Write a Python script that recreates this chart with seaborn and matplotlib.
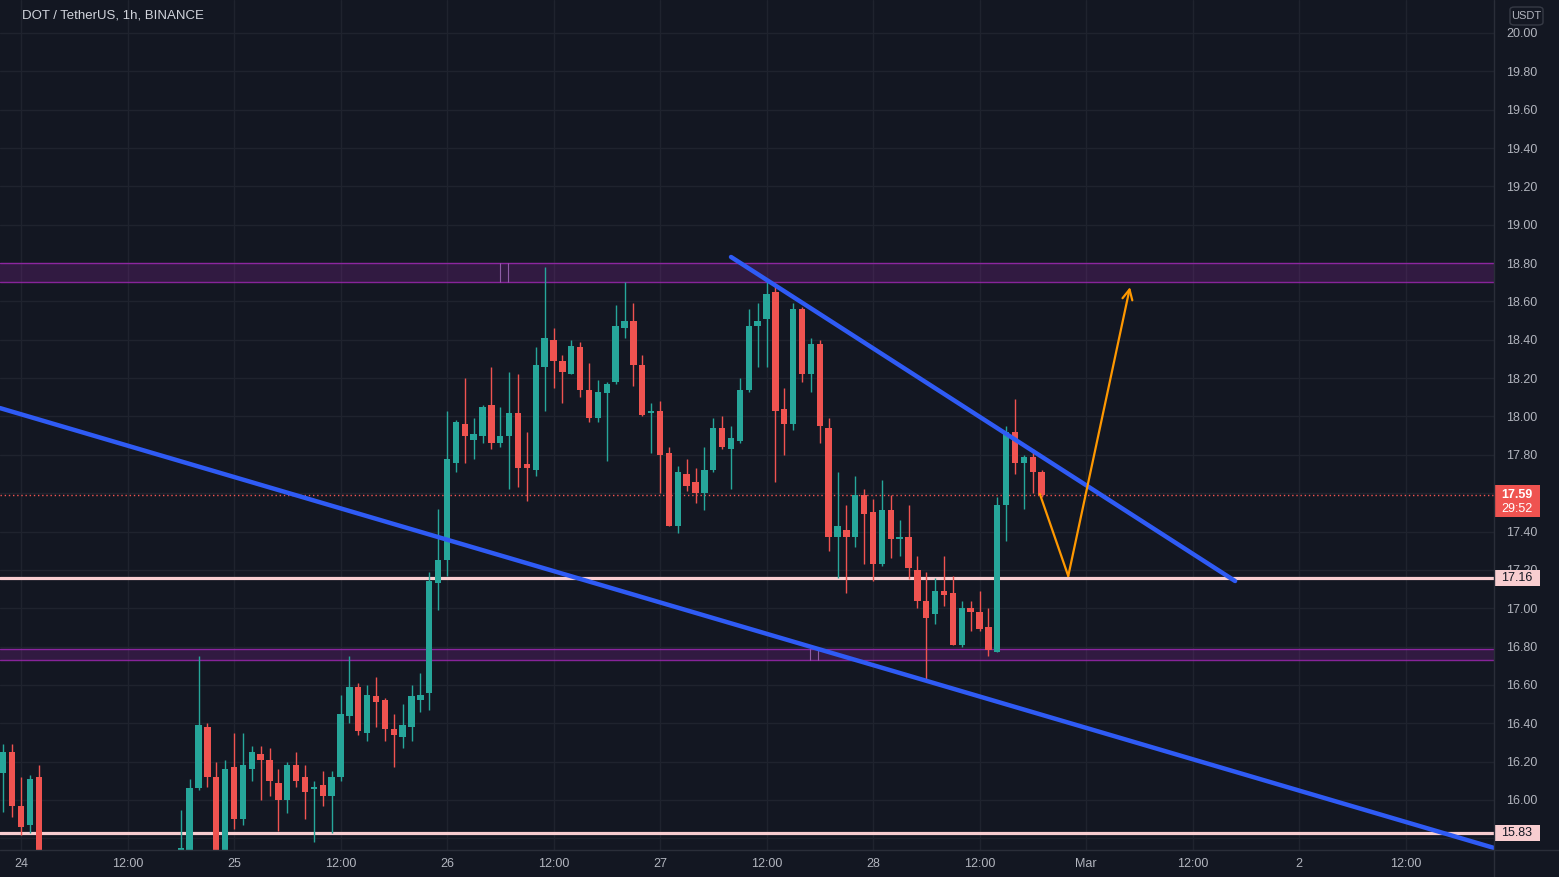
import numpy as np
import pandas as pd
import matplotlib
matplotlib.use("Agg")
import matplotlib.pyplot as plt
import matplotlib.transforms as mtransforms
from matplotlib.patches import Rectangle, FancyBboxPatch
from matplotlib.lines import Line2D
import seaborn as sns

# ---------------- data ----------------
hours = list(range(-2, 116))  # hours since Feb 24 00:00
opens = [16.14, 16.25, 15.97, 15.87, 16.12,
         15.66, 15.55, 15.48, 15.53, 15.40, 15.46, 15.38, 15.43, 15.50, 15.47, 15.55, 15.52, 15.59, 15.61, 15.56,
         15.64, 15.73, 16.06, 16.38, 16.12, 15.74, 16.17, 15.90, 16.16, 16.24, 16.21, 16.09, 16.00, 16.18, 16.12,
         16.056, 16.08, 16.02, 16.12, 16.44, 16.59, 16.35, 16.54, 16.52, 16.37, 16.33, 16.38, 16.52, 16.56, 17.13,
         17.25, 17.76, 17.96, 17.88, 17.90, 18.06, 17.86, 17.90, 18.02, 17.75, 17.72, 18.26, 18.40, 18.29, 18.22,
         18.36, 18.14, 17.99, 18.12, 18.18, 18.46, 18.50, 18.27, 18.02, 18.03, 17.81, 17.43, 17.70, 17.66, 17.60,
         17.72, 17.94, 17.83, 17.87, 18.14, 18.47, 18.51, 18.65, 18.04, 17.96, 18.56, 18.22, 18.38, 17.94, 17.37,
         17.41, 17.37, 17.59, 17.50, 17.23, 17.51, 17.36, 17.37, 17.20, 17.04, 16.97, 17.09, 17.08, 16.81, 17.00,
         16.98, 16.90, 16.77, 17.54, 17.92, 17.76, 17.79, 17.71]
highs = [16.29, 16.29, 16.12, 16.13, 16.18,
         15.70, 15.62, 15.58, 15.56, 15.50, 15.49, 15.47, 15.54, 15.53, 15.58, 15.60, 15.63, 15.66, 15.64, 15.68,
         15.95, 16.11, 16.75, 16.40, 16.20, 16.21, 16.35, 16.35, 16.28, 16.28, 16.27, 16.16, 16.20, 16.25, 16.18,
         16.10, 16.15, 16.15, 16.55, 16.75, 16.61, 16.60, 16.64, 16.53, 16.45, 16.50, 16.60, 16.66, 17.19, 17.52,
         18.03, 17.98, 18.20, 17.99, 18.06, 18.26, 18.05, 18.23, 18.22, 17.92, 18.36, 18.78, 18.46, 18.32, 18.40,
         18.39, 18.28, 18.19, 18.18, 18.58, 18.70, 18.59, 18.32, 18.07, 18.08, 17.84, 17.74, 17.78, 17.73, 17.84,
         17.99, 18.00, 17.95, 18.20, 18.56, 18.59, 18.71, 18.68, 18.15, 18.59, 18.57, 18.41, 18.40, 17.99, 17.71,
         17.54, 17.69, 17.62, 17.57, 17.67, 17.59, 17.46, 17.54, 17.27, 17.19, 17.16, 17.27, 17.17, 17.04, 17.04,
         17.09, 17.00, 17.58, 17.95, 18.09, 17.80, 17.83, 17.72]
lows = [15.94, 15.91, 15.82, 15.83, 15.60,
        15.50, 15.44, 15.45, 15.36, 15.35, 15.33, 15.34, 15.40, 15.42, 15.45, 15.48, 15.50, 15.54, 15.52, 15.53,
        15.60, 15.72, 16.05, 16.07, 15.70, 15.72, 15.85, 15.87, 16.10, 16.00, 16.02, 15.84, 15.93, 16.07, 15.90,
        15.78, 15.97, 15.83, 16.10, 16.40, 16.34, 16.31, 16.38, 16.31, 16.17, 16.27, 16.31, 16.46, 16.47, 16.99,
        17.17, 17.71, 17.76, 17.78, 17.86, 17.83, 17.84, 17.62, 17.63, 17.56, 17.69, 18.03, 18.15, 18.07, 18.22,
        18.10, 17.97, 17.97, 17.77, 18.17, 18.41, 18.16, 18.00, 17.81, 17.60, 17.43, 17.39, 17.61, 17.55, 17.51,
        17.71, 17.83, 17.62, 17.86, 18.13, 18.26, 18.26, 17.66, 17.80, 17.93, 18.18, 18.13, 17.86, 17.30, 17.16,
        17.08, 17.32, 17.23, 17.14, 17.22, 17.26, 17.27, 17.15, 17.00, 16.63, 16.92, 17.01, 16.81, 16.80, 16.88,
        16.88, 16.75, 16.77, 17.35, 17.70, 17.52, 17.60, 17.58]
closes = [16.25, 15.97, 15.86, 16.11, 15.66,
          15.55, 15.48, 15.53, 15.40, 15.46, 15.38, 15.43, 15.50, 15.47, 15.55, 15.52, 15.59, 15.61, 15.56, 15.64,
          15.75, 16.06, 16.39, 16.12, 15.74, 16.16, 15.90, 16.18, 16.25, 16.21, 16.10, 16.00, 16.18, 16.10, 16.04,
          16.07, 16.02, 16.12, 16.45, 16.59, 16.36, 16.55, 16.51, 16.37, 16.34, 16.39, 16.54, 16.55, 17.14, 17.25,
          17.78, 17.97, 17.90, 17.91, 18.05, 17.86, 17.90, 18.02, 17.73, 17.73, 18.27, 18.41, 18.29, 18.23, 18.37,
          18.14, 17.99, 18.13, 18.17, 18.47, 18.50, 18.27, 18.01, 18.03, 17.80, 17.43, 17.71, 17.64, 17.60, 17.72,
          17.94, 17.84, 17.89, 18.14, 18.47, 18.50, 18.64, 18.03, 17.96, 18.56, 18.22, 18.38, 17.95, 17.37, 17.43,
          17.37, 17.59, 17.49, 17.23, 17.51, 17.36, 17.37, 17.21, 17.04, 16.95, 17.09, 17.07, 16.81, 17.00, 16.98,
          16.89, 16.78, 17.54, 17.92, 17.76, 17.79, 17.71, 17.59]

x_tick_hours = [0, 12, 24, 36, 48, 60, 72, 84, 96, 108, 120, 132, 144, 156]
x_tick_labels = ["24", "12:00", "25", "12:00", "26", "12:00", "27", "12:00", "28", "12:00",
                 "Mar", "12:00", "2", "12:00"]
price_ticks = [15.8, 16.0, 16.2, 16.4, 16.6, 16.8, 17.0, 17.2, 17.4, 17.6, 17.8,
               18.0, 18.2, 18.4, 18.6, 18.8, 19.0, 19.2, 19.4, 19.6, 19.8, 20.0]
hidden_price_labels = [15.8, 17.6]  # covered by the level boxes in the reference

resistance_zone = [18.70, 18.80]
support_zone = [16.73, 16.785]
zone_marks_top = [54.0, 54.9]
zone_marks_bottom = [88.9, 89.8]
pink_levels = [17.16, 15.83]
pink_labels = ["17.16", "15.83"]
last_price = 17.59
countdown = "29:52"

wedge_lower_x = [-2.37, 165.97]
wedge_lower_y = [18.044, 15.75]
wedge_upper_x = [80.0, 136.8]
wedge_upper_y = [18.832, 17.142]
path_x = [114.8, 118.0, 124.96]
path_y = [17.596, 17.168, 18.675]

title = "DOT / TetherUS, 1h, BINANCE"

# ---------------- style ----------------
BG = "#131722"
GRID = "#1F232E"
TXT = "#B2B5BE"
UP = "#26A69A"
DOWN = "#EF5350"
W, H = 1559, 877

sns.set_theme(style="dark", rc={"axes.facecolor": BG, "figure.facecolor": BG})
plt.rcParams["font.family"] = ["Liberation Sans", "DejaVu Sans"]

fig = plt.figure(figsize=(W / 100, H / 100), dpi=100)
plot_right = 1494
plot_bottom = 850
ax = fig.add_axes([0, (H - plot_bottom) / H, plot_right / W, plot_bottom / H])
ax.set_facecolor(BG)

px_h = 8.875
x0 = -21 / px_h
x1 = (plot_right - 21) / px_h
ax.set_xlim(x0, x1)
y_top = 20 + 33 / 191.75
y_bot = 20 - (plot_bottom - 33) / 191.75
ax.set_ylim(y_bot, y_top)

# grid
for v in price_ticks:
    ax.axhline(v, color=GRID, lw=1, zorder=0)
for v in x_tick_hours:
    ax.axvline(v, color=GRID, lw=1, zorder=0)

# zones
for lo, hi, marks in [(resistance_zone[0], resistance_zone[1], zone_marks_top),
                      (support_zone[0], support_zone[1], zone_marks_bottom)]:
    ax.axhspan(lo, hi, color="#9C27B0", alpha=0.22, lw=0, zorder=1)
    ax.axhline(lo, color="#9C27B0", lw=1.0, alpha=0.85, zorder=1)
    ax.axhline(hi, color="#9C27B0", lw=1.0, alpha=0.85, zorder=1)
    ax.vlines(marks, lo, hi, color="#B57BD0", lw=0.8, alpha=0.7, zorder=1)

# horizontal levels
for lv in pink_levels:
    ax.axhline(lv, color="#F8CDD0", lw=2.3, zorder=2)
ax.axhline(last_price, color=DOWN, lw=1.0, ls=(0, (1, 2)), zorder=2)

# candles
df = pd.DataFrame({"h": hours, "o": opens, "hi": highs, "lo": lows, "c": closes})
df["col"] = np.where(df["c"] >= df["o"], UP, DOWN)
df["bot"] = df[["o", "c"]].min(axis=1)
df["ht"] = (df["c"] - df["o"]).abs().clip(lower=0.007)
ax.vlines(df["h"], df["lo"], df["hi"], colors=df["col"], lw=1.0, zorder=3)
ax.bar(df["h"], df["ht"], bottom=df["bot"], width=0.72, color=df["col"], lw=0, zorder=4)

# trend lines (seaborn)
sns.lineplot(x=wedge_lower_x, y=wedge_lower_y, ax=ax, color="#2F5BF5", lw=3.2, sort=False, zorder=5)
sns.lineplot(x=wedge_upper_x, y=wedge_upper_y, ax=ax, color="#2F5BF5", lw=3.2, sort=False, zorder=5)
sns.lineplot(x=path_x[:2], y=path_y[:2], ax=ax, color="#FF9800", lw=1.6, sort=False, zorder=6)
ax.annotate("", xy=(path_x[2], path_y[2]), xytext=(path_x[1], path_y[1]),
            arrowprops=dict(arrowstyle="->", color="#FF9800", lw=1.6, mutation_scale=18,
                            shrinkA=0, shrinkB=0), zorder=6)

# axes ticks
ax.yaxis.tick_right()
ax.set_yticks(price_ticks)
ax.set_yticklabels(["" if v in hidden_price_labels else f"{v:.2f}" for v in price_ticks])
ax.set_xticks(x_tick_hours)
ax.set_xticklabels(x_tick_labels)
ax.tick_params(axis="y", length=0, pad=9, labelcolor=TXT, labelsize=9)
ax.tick_params(axis="x", length=0, pad=6, labelcolor=TXT, labelsize=9)
ax.grid(False)
for s in ax.spines.values():
    s.set_visible(False)
ax.set_xlabel("")
ax.set_ylabel("")

# price label boxes
blend = mtransforms.blended_transform_factory(ax.transAxes, ax.transData)
bw = 46 / plot_right
ppx = 1 / 191.75
for lv, lab in zip(pink_levels, pink_labels):
    ax.add_patch(Rectangle((1.0, lv - 8 * ppx), bw, 16 * ppx, transform=blend,
                           facecolor="#F8CDD0", edgecolor="none", clip_on=False, zorder=10))
    ax.text(1.0 + bw / 2, lv, lab, transform=blend, ha="center", va="center",
            color="#131722", fontsize=9, clip_on=False, zorder=11)
ax.add_patch(Rectangle((1.0, last_price - 22 * ppx), bw, 32 * ppx, transform=blend,
                       facecolor=DOWN, edgecolor="none", clip_on=False, zorder=10))
ax.text(1.0 + bw / 2, last_price, f"{last_price:.2f}", transform=blend, ha="center", va="center",
        color="white", fontsize=9, fontweight="bold", clip_on=False, zorder=11)
ax.text(1.0 + bw / 2, last_price - 14 * ppx, countdown, transform=blend, ha="center", va="center",
        color="white", fontsize=9, clip_on=False, zorder=11)

# separators
fig.add_artist(Line2D([plot_right / W] * 2, [0, 1], transform=fig.transFigure, color="#2A2E39", lw=1))
fig.add_artist(Line2D([0, 1], [(H - plot_bottom) / H] * 2, transform=fig.transFigure, color="#2A2E39", lw=1))

# title and unit box
fig.text(22 / W, 1 - 16 / H, title, ha="left", va="center", color="#D1D4DC", fontsize=9.5)
fig.add_artist(FancyBboxPatch((1510 / W, 1 - 25 / H), 33 / W, 18 / H,
                              boxstyle="round,pad=0,rounding_size=0.003", transform=fig.transFigure,
                              facecolor=BG, edgecolor="#363A45", lw=1))
fig.text(1526.5 / W, 1 - 16 / H, "USDT", ha="center", va="center", color=TXT, fontsize=8)

fig.savefig("out.png", dpi=100, facecolor=BG)
